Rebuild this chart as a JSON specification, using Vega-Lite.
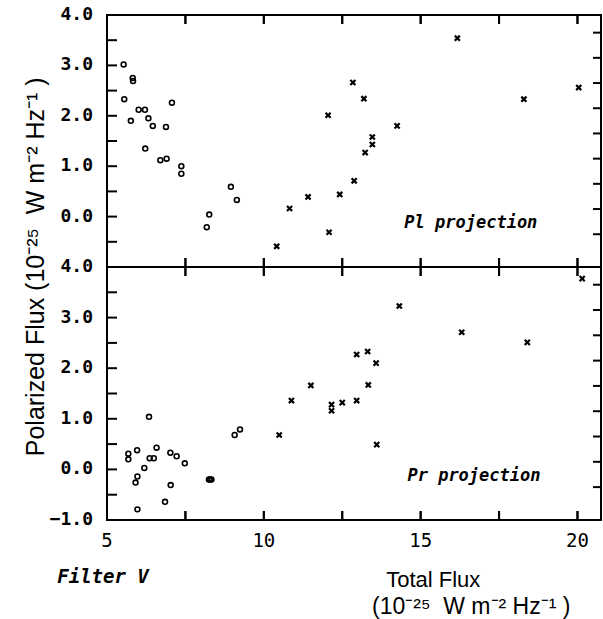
{
  "$schema": "https://vega.github.io/schema/vega-lite/v6.json",
  "background": "white",
  "padding": {"left": 22, "top": 5, "right": 0, "bottom": 0},
  "spacing": 0,
  "bounds": "flush",
  "config": {
    "view": {"stroke": "black", "strokeWidth": 2},
    "tick": {"opacity": 1, "color": "black", "thickness": 2},
    "text": {"color": "black"}
  },
  "datasets": {
    "pts": [
      {"panel": "Pl", "kind": "o", "x": 5.53, "y": 3.02},
      {"panel": "Pl", "kind": "o", "x": 5.55, "y": 2.33},
      {"panel": "Pl", "kind": "o", "x": 5.82, "y": 2.75},
      {"panel": "Pl", "kind": "o", "x": 5.83, "y": 2.69},
      {"panel": "Pl", "kind": "o", "x": 5.76, "y": 1.90},
      {"panel": "Pl", "kind": "o", "x": 6.01, "y": 2.12},
      {"panel": "Pl", "kind": "o", "x": 6.21, "y": 2.12},
      {"panel": "Pl", "kind": "o", "x": 6.22, "y": 1.35},
      {"panel": "Pl", "kind": "o", "x": 6.32, "y": 1.95},
      {"panel": "Pl", "kind": "o", "x": 6.46, "y": 1.80},
      {"panel": "Pl", "kind": "o", "x": 6.70, "y": 1.12},
      {"panel": "Pl", "kind": "o", "x": 6.90, "y": 1.15},
      {"panel": "Pl", "kind": "o", "x": 6.88, "y": 1.78},
      {"panel": "Pl", "kind": "o", "x": 7.07, "y": 2.26},
      {"panel": "Pl", "kind": "o", "x": 7.37, "y": 1.00},
      {"panel": "Pl", "kind": "o", "x": 7.37, "y": 0.85},
      {"panel": "Pl", "kind": "o", "x": 8.18, "y": -0.21},
      {"panel": "Pl", "kind": "o", "x": 8.26, "y": 0.04},
      {"panel": "Pl", "kind": "o", "x": 8.95, "y": 0.59},
      {"panel": "Pl", "kind": "o", "x": 9.14, "y": 0.33},
      {"panel": "Pl", "kind": "x", "x": 10.41, "y": -0.59},
      {"panel": "Pl", "kind": "x", "x": 10.82, "y": 0.16},
      {"panel": "Pl", "kind": "x", "x": 11.41, "y": 0.39},
      {"panel": "Pl", "kind": "x", "x": 12.08, "y": -0.31},
      {"panel": "Pl", "kind": "x", "x": 12.05, "y": 2.01},
      {"panel": "Pl", "kind": "x", "x": 12.42, "y": 0.44},
      {"panel": "Pl", "kind": "x", "x": 12.84, "y": 2.66},
      {"panel": "Pl", "kind": "x", "x": 12.88, "y": 0.71},
      {"panel": "Pl", "kind": "x", "x": 13.19, "y": 2.34},
      {"panel": "Pl", "kind": "x", "x": 13.23, "y": 1.27},
      {"panel": "Pl", "kind": "x", "x": 13.46, "y": 1.58},
      {"panel": "Pl", "kind": "x", "x": 13.46, "y": 1.43},
      {"panel": "Pl", "kind": "x", "x": 14.25, "y": 1.80},
      {"panel": "Pl", "kind": "x", "x": 16.17, "y": 3.54},
      {"panel": "Pl", "kind": "x", "x": 18.29, "y": 2.33},
      {"panel": "Pl", "kind": "x", "x": 20.04, "y": 2.56},
      {"panel": "Pr", "kind": "o", "x": 5.68, "y": 0.31},
      {"panel": "Pr", "kind": "o", "x": 5.68, "y": 0.20},
      {"panel": "Pr", "kind": "o", "x": 5.96, "y": 0.38},
      {"panel": "Pr", "kind": "o", "x": 5.97, "y": -0.14},
      {"panel": "Pr", "kind": "o", "x": 5.91, "y": -0.26},
      {"panel": "Pr", "kind": "o", "x": 5.97, "y": -0.79},
      {"panel": "Pr", "kind": "o", "x": 6.19, "y": 0.03},
      {"panel": "Pr", "kind": "o", "x": 6.34, "y": 1.04},
      {"panel": "Pr", "kind": "o", "x": 6.36, "y": 0.22},
      {"panel": "Pr", "kind": "o", "x": 6.49, "y": 0.22},
      {"panel": "Pr", "kind": "o", "x": 6.58, "y": 0.43},
      {"panel": "Pr", "kind": "o", "x": 6.85, "y": -0.64},
      {"panel": "Pr", "kind": "o", "x": 7.02, "y": 0.33},
      {"panel": "Pr", "kind": "o", "x": 7.03, "y": -0.31},
      {"panel": "Pr", "kind": "o", "x": 7.22, "y": 0.26},
      {"panel": "Pr", "kind": "o", "x": 7.48, "y": 0.12},
      {"panel": "Pr", "kind": "o", "x": 8.25, "y": -0.20},
      {"panel": "Pr", "kind": "o", "x": 8.29, "y": -0.20},
      {"panel": "Pr", "kind": "o", "x": 8.33, "y": -0.20},
      {"panel": "Pr", "kind": "o", "x": 9.07, "y": 0.68},
      {"panel": "Pr", "kind": "o", "x": 9.24, "y": 0.79},
      {"panel": "Pr", "kind": "x", "x": 10.49, "y": 0.68},
      {"panel": "Pr", "kind": "x", "x": 10.88, "y": 1.36},
      {"panel": "Pr", "kind": "x", "x": 11.50, "y": 1.66},
      {"panel": "Pr", "kind": "x", "x": 12.16, "y": 1.28},
      {"panel": "Pr", "kind": "x", "x": 12.16, "y": 1.16},
      {"panel": "Pr", "kind": "x", "x": 12.50, "y": 1.32},
      {"panel": "Pr", "kind": "x", "x": 12.96, "y": 2.27},
      {"panel": "Pr", "kind": "x", "x": 12.96, "y": 1.36},
      {"panel": "Pr", "kind": "x", "x": 13.31, "y": 2.33},
      {"panel": "Pr", "kind": "x", "x": 13.33, "y": 1.67},
      {"panel": "Pr", "kind": "x", "x": 13.58, "y": 2.10},
      {"panel": "Pr", "kind": "x", "x": 13.60, "y": 0.49},
      {"panel": "Pr", "kind": "x", "x": 14.32, "y": 3.23},
      {"panel": "Pr", "kind": "x", "x": 16.31, "y": 2.71},
      {"panel": "Pr", "kind": "x", "x": 18.40, "y": 2.51},
      {"panel": "Pr", "kind": "x", "x": 20.15, "y": 3.77}
    ],
    "notes": [
      {"panel": "Pl", "x": 16.6, "y": -0.12, "text": "Pl projection"},
      {"panel": "Pr", "x": 16.7, "y": -0.14, "text": "Pr projection"}
    ],
    "xt": [{"v": 7.5}, {"v": 10}, {"v": 12.5}, {"v": 15}, {"v": 17.5}, {"v": 20}],
    "yl": [{"v": -0.5}, {"v": 0}, {"v": 0.5}, {"v": 1}, {"v": 1.5}, {"v": 2}, {"v": 2.5}, {"v": 3}, {"v": 3.5}],
    "yr": [{"v": -0.35}, {"v": 0.15}, {"v": 0.65}, {"v": 1.15}, {"v": 1.65}, {"v": 2.15}, {"v": 2.65}, {"v": 3.15}, {"v": 3.65}],
    "ylab": [{"v": -1}, {"v": 0}, {"v": 1}, {"v": 2}, {"v": 3}, {"v": 4}],
    "xlab": [{"v": 5}, {"v": 10}, {"v": 15}, {"v": 20}]
  },
  "vconcat": [
    {
      "width": 494,
      "height": 252,
      "layer": [
        {
          "data": {"name": "pts"},
          "transform": [{"filter": "datum.panel === 'Pl' && datum.kind === 'o'"}],
          "mark": {"type": "point", "shape": "circle", "filled": false, "color": "black", "strokeWidth": 1.6, "size": 24, "opacity": 1},
          "encoding": {
            "x": {"field": "x", "type": "quantitative", "scale": {"domain": [5, 20.75], "nice": false, "zero": false}, "axis": null},
            "y": {"field": "y", "type": "quantitative", "scale": {"domain": [-1, 4], "nice": false, "zero": false}, "axis": null}
          }
        },
        {
          "data": {"name": "pts"},
          "transform": [{"filter": "datum.panel === 'Pl' && datum.kind === 'x'"}],
          "mark": {"type": "point", "shape": "M-1,-1L1,1M1,-1L-1,1", "filled": false, "color": "black", "strokeWidth": 2.2, "size": 26, "opacity": 1},
          "encoding": {
            "x": {"field": "x", "type": "quantitative", "axis": null},
            "y": {"field": "y", "type": "quantitative", "axis": null}
          }
        },
        {
          "data": {"name": "notes"},
          "transform": [{"filter": "datum.panel === 'Pl'"}],
          "mark": {"type": "text", "font": "DejaVu Sans Mono", "fontStyle": "italic", "fontWeight": "bold", "fontSize": 17, "align": "center", "baseline": "middle"},
          "encoding": {
            "x": {"field": "x", "type": "quantitative", "axis": null},
            "y": {"field": "y", "type": "quantitative", "axis": null},
            "text": {"field": "text"}
          }
        },
        {
          "data": {"name": "ylab"},
          "transform": [{"filter": "datum.v >= 0"}],
          "mark": {"type": "text", "font": "DejaVu Sans Mono", "fontWeight": "bold", "fontSize": 18, "align": "right", "baseline": "middle", "dx": -14},
          "encoding": {
            "x": {"datum": 5, "type": "quantitative", "axis": null},
            "y": {"field": "v", "type": "quantitative", "axis": null},
            "text": {"field": "v", "type": "quantitative", "format": ".1f"}
          }
        },
        {
          "data": {"name": "xt"},
          "mark": {"type": "point", "shape": "M0,0L0,-2", "filled": false, "color": "black", "strokeWidth": 2, "size": 81, "opacity": 1},
          "encoding": {
            "x": {"field": "v", "type": "quantitative", "axis": null},
            "y": {"datum": -1, "type": "quantitative", "axis": null}
          }
        },
        {
          "data": {"name": "xt"},
          "mark": {"type": "point", "shape": "M0,0L0,2", "filled": false, "color": "black", "strokeWidth": 2, "size": 81, "opacity": 1},
          "encoding": {
            "x": {"field": "v", "type": "quantitative", "axis": null},
            "y": {"datum": 4, "type": "quantitative", "axis": null}
          }
        },
        {
          "data": {"name": "yl"},
          "mark": {"type": "point", "shape": "M0,0L2,0", "filled": false, "color": "black", "strokeWidth": 2, "size": 100, "opacity": 1},
          "encoding": {
            "y": {"field": "v", "type": "quantitative", "axis": null},
            "x": {"datum": 5, "type": "quantitative", "axis": null}
          }
        },
        {
          "data": {"name": "yr"},
          "mark": {"type": "point", "shape": "M0,0L-2,0", "filled": false, "color": "black", "strokeWidth": 2, "size": 64, "opacity": 1},
          "encoding": {
            "y": {"field": "v", "type": "quantitative", "axis": null},
            "x": {"datum": 20.75, "type": "quantitative", "axis": null}
          }
        },
        {
          "data": {"name": "xt"},
          "mark": {"type": "tick", "orient": "vertical", "size": 9, "yOffset": -4.5},
          "encoding": {
            "x": {"field": "v", "type": "quantitative", "axis": null},
            "y": {"datum": -1, "type": "quantitative", "axis": null}
          }
        },
        {
          "data": {"name": "xt"},
          "mark": {"type": "tick", "orient": "vertical", "size": 9, "yOffset": 4.5},
          "encoding": {
            "x": {"field": "v", "type": "quantitative", "axis": null},
            "y": {"datum": 4, "type": "quantitative", "axis": null}
          }
        }
      ]
    },
    {
      "width": 494,
      "height": 253,
      "layer": [
        {
          "data": {"name": "pts"},
          "transform": [{"filter": "datum.panel === 'Pr' && datum.kind === 'o'"}],
          "mark": {"type": "point", "shape": "circle", "filled": false, "color": "black", "strokeWidth": 1.6, "size": 24, "opacity": 1},
          "encoding": {
            "x": {"field": "x", "type": "quantitative", "scale": {"domain": [5, 20.75], "nice": false, "zero": false}, "axis": null},
            "y": {"field": "y", "type": "quantitative", "scale": {"domain": [-1, 4], "nice": false, "zero": false}, "axis": null}
          }
        },
        {
          "data": {"name": "pts"},
          "transform": [{"filter": "datum.panel === 'Pr' && datum.kind === 'x'"}],
          "mark": {"type": "point", "shape": "M-1,-1L1,1M1,-1L-1,1", "filled": false, "color": "black", "strokeWidth": 2.2, "size": 26, "opacity": 1},
          "encoding": {
            "x": {"field": "x", "type": "quantitative", "axis": null},
            "y": {"field": "y", "type": "quantitative", "axis": null}
          }
        },
        {
          "data": {"name": "notes"},
          "transform": [{"filter": "datum.panel === 'Pr'"}],
          "mark": {"type": "text", "font": "DejaVu Sans Mono", "fontStyle": "italic", "fontWeight": "bold", "fontSize": 17, "align": "center", "baseline": "middle"},
          "encoding": {
            "x": {"field": "x", "type": "quantitative", "axis": null},
            "y": {"field": "y", "type": "quantitative", "axis": null},
            "text": {"field": "text"}
          }
        },
        {
          "data": {"name": "ylab"},
          "mark": {"type": "text", "font": "DejaVu Sans Mono", "fontWeight": "bold", "fontSize": 18, "align": "right", "baseline": "middle", "dx": -14},
          "encoding": {
            "x": {"datum": 5, "type": "quantitative", "axis": null},
            "y": {"field": "v", "type": "quantitative", "axis": null},
            "text": {"field": "v", "type": "quantitative", "format": ".1f"}
          }
        },
        {
          "data": {"name": "xlab"},
          "mark": {"type": "text", "font": "DejaVu Sans Mono", "fontSize": 19, "align": "center", "baseline": "middle", "dy": 21},
          "encoding": {
            "x": {"field": "v", "type": "quantitative", "axis": null},
            "y": {"datum": -1, "type": "quantitative", "axis": null},
            "text": {"field": "v", "type": "quantitative", "format": "d"}
          }
        },
        {
          "data": {"values": [{"label": "Total Flux"}]},
          "mark": {"type": "text", "font": "Liberation Sans", "fontSize": 22, "align": "left", "baseline": "alphabetic", "dy": 67},
          "encoding": {
            "x": {"datum": 13.9, "type": "quantitative", "axis": null},
            "y": {"datum": -1, "type": "quantitative", "axis": null},
            "text": {"field": "label"}
          }
        },
        {
          "data": {"values": [{"label": "(10⁻²⁵\u00a0\u00a0W m⁻² Hz⁻¹ )"}]},
          "mark": {"type": "text", "font": "Liberation Sans", "fontSize": 23, "align": "left", "baseline": "middle", "dy": 87},
          "encoding": {
            "x": {"datum": 13.45, "type": "quantitative", "axis": null},
            "y": {"datum": -1, "type": "quantitative", "axis": null},
            "text": {"field": "label"}
          }
        },
        {
          "data": {"values": [{"label": "Filter V"}]},
          "mark": {"type": "text", "font": "DejaVu Sans Mono", "fontStyle": "italic", "fontWeight": "bold", "fontSize": 19, "align": "center", "baseline": "middle", "dx": -4, "dy": 57},
          "encoding": {
            "x": {"datum": 5, "type": "quantitative", "axis": null},
            "y": {"datum": -1, "type": "quantitative", "axis": null},
            "text": {"field": "label"}
          }
        },
        {
          "data": {"values": [{"label": "Polarized Flux (10⁻²⁵\u00a0\u00a0W m⁻² Hz⁻¹ )"}]},
          "mark": {"type": "text", "font": "Liberation Sans", "fontSize": 25, "angle": 270, "align": "left", "baseline": "alphabetic", "dy": -63},
          "encoding": {
            "x": {"datum": 5, "type": "quantitative", "axis": null},
            "y": {"datum": 0.26, "type": "quantitative", "axis": null},
            "text": {"field": "label"}
          }
        },
        {
          "data": {"name": "xt"},
          "mark": {"type": "point", "shape": "M0,0L0,-2", "filled": false, "color": "black", "strokeWidth": 2, "size": 81, "opacity": 1},
          "encoding": {
            "x": {"field": "v", "type": "quantitative", "axis": null},
            "y": {"datum": -1, "type": "quantitative", "axis": null}
          }
        },
        {
          "data": {"name": "xt"},
          "mark": {"type": "point", "shape": "M0,0L0,2", "filled": false, "color": "black", "strokeWidth": 2, "size": 81, "opacity": 1},
          "encoding": {
            "x": {"field": "v", "type": "quantitative", "axis": null},
            "y": {"datum": 4, "type": "quantitative", "axis": null}
          }
        },
        {
          "data": {"name": "yl"},
          "mark": {"type": "point", "shape": "M0,0L2,0", "filled": false, "color": "black", "strokeWidth": 2, "size": 100, "opacity": 1},
          "encoding": {
            "y": {"field": "v", "type": "quantitative", "axis": null},
            "x": {"datum": 5, "type": "quantitative", "axis": null}
          }
        },
        {
          "data": {"name": "yr"},
          "mark": {"type": "point", "shape": "M0,0L-2,0", "filled": false, "color": "black", "strokeWidth": 2, "size": 64, "opacity": 1},
          "encoding": {
            "y": {"field": "v", "type": "quantitative", "axis": null},
            "x": {"datum": 20.75, "type": "quantitative", "axis": null}
          }
        },
        {
          "data": {"name": "xt"},
          "mark": {"type": "tick", "orient": "vertical", "size": 9, "yOffset": -4.5},
          "encoding": {
            "x": {"field": "v", "type": "quantitative", "axis": null},
            "y": {"datum": -1, "type": "quantitative", "axis": null}
          }
        },
        {
          "data": {"name": "xt"},
          "mark": {"type": "tick", "orient": "vertical", "size": 9, "yOffset": 4.5},
          "encoding": {
            "x": {"field": "v", "type": "quantitative", "axis": null},
            "y": {"datum": 4, "type": "quantitative", "axis": null}
          }
        }
      ]
    }
  ]
}
